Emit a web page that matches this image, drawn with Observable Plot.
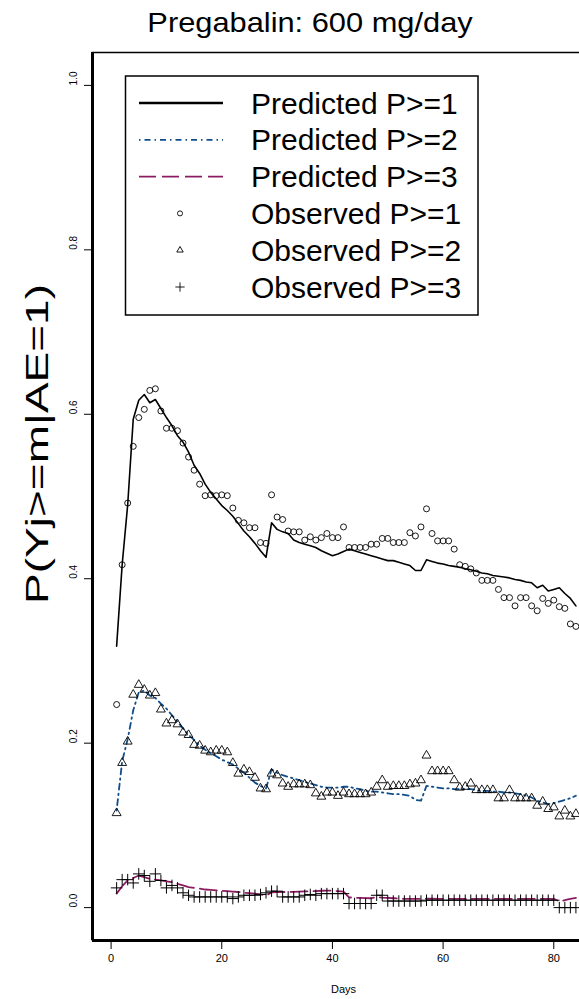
<!DOCTYPE html>
<html><head><meta charset="utf-8">
<script src="https://cdn.jsdelivr.net/npm/d3@7"></script>
<script src="https://cdn.jsdelivr.net/npm/@observablehq/plot@0.6"></script>
<style>
html,body{margin:0;padding:0;background:#fff;overflow:hidden;width:579px;height:999px;}
#wrap{position:relative;width:579px;height:999px;overflow:hidden;}
#title{position:absolute;left:0;top:0;width:620px;height:50px;text-align:center;font-family:"Liberation Sans",Arial,sans-serif;font-size:28px;line-height:46px;color:#000;white-space:nowrap;transform:scaleX(1.1);transform-origin:310px 0;}
#chart{position:absolute;left:0;top:50px;}
</style></head><body>
<div id="wrap"><div id="title"></div><div id="chart"></div></div>
<script>
const titleText = "Pregabalin: 600 mg/day";
const xLabel = "Days";
const yLabel = "P(Yj>=m|AE=1)";
const xTicks = [0, 20, 40, 60, 80];
const yTicks = [0, 0.2, 0.4, 0.6, 0.8, 1.0];
const xDomain = [-3.36, 87.36];
const yDomain = [-0.04, 1.04];
const days = d3.range(1, 85);

const obsP1 = [0.247,0.417,0.492,0.561,0.596,0.606,0.629,0.631,0.604,0.583,0.583,0.580,0.565,0.548,0.532,0.515,0.501,0.502,0.501,0.502,0.501,0.486,0.471,0.468,0.462,0.462,0.444,0.443,0.502,0.475,0.472,0.458,0.457,0.457,0.447,0.451,0.447,0.450,0.455,0.450,0.450,0.463,0.438,0.438,0.438,0.438,0.442,0.442,0.449,0.449,0.444,0.444,0.444,0.456,0.452,0.463,0.485,0.455,0.446,0.446,0.446,0.436,0.417,0.415,0.412,0.407,0.398,0.398,0.398,0.387,0.377,0.377,0.367,0.377,0.377,0.367,0.361,0.376,0.370,0.374,0.366,0.364,0.345,0.342];
const predP1 = [0.318,0.417,0.490,0.594,0.617,0.624,0.614,0.618,0.607,0.596,0.586,0.574,0.566,0.554,0.538,0.528,0.515,0.505,0.497,0.489,0.483,0.476,0.467,0.458,0.451,0.443,0.434,0.426,0.468,0.460,0.457,0.455,0.447,0.444,0.442,0.440,0.438,0.434,0.431,0.428,0.430,0.433,0.436,0.434,0.432,0.430,0.428,0.426,0.424,0.422,0.422,0.420,0.418,0.416,0.410,0.410,0.423,0.421,0.419,0.418,0.416,0.415,0.414,0.412,0.411,0.409,0.407,0.406,0.404,0.403,0.402,0.401,0.399,0.398,0.396,0.395,0.389,0.392,0.385,0.387,0.389,0.382,0.376,0.367];
const obsP2 = [0.115,0.176,0.202,0.259,0.271,0.265,0.258,0.261,0.241,0.224,0.228,0.223,0.213,0.210,0.198,0.197,0.191,0.189,0.191,0.191,0.189,0.176,0.163,0.168,0.165,0.158,0.145,0.144,0.163,0.161,0.151,0.147,0.150,0.150,0.150,0.149,0.139,0.135,0.140,0.140,0.136,0.140,0.138,0.138,0.138,0.138,0.140,0.147,0.155,0.147,0.148,0.148,0.148,0.150,0.151,0.155,0.185,0.166,0.166,0.166,0.166,0.155,0.146,0.147,0.151,0.143,0.143,0.143,0.143,0.133,0.133,0.143,0.133,0.133,0.133,0.133,0.124,0.129,0.120,0.122,0.111,0.118,0.111,0.114];
const predP2 = [0.118,0.178,0.205,0.240,0.262,0.264,0.258,0.255,0.248,0.242,0.234,0.226,0.218,0.210,0.204,0.197,0.192,0.188,0.184,0.180,0.177,0.174,0.169,0.164,0.158,0.152,0.148,0.145,0.168,0.164,0.161,0.159,0.157,0.155,0.153,0.151,0.149,0.147,0.146,0.146,0.146,0.147,0.147,0.145,0.144,0.142,0.141,0.141,0.140,0.139,0.138,0.138,0.137,0.136,0.131,0.130,0.148,0.147,0.146,0.145,0.145,0.144,0.144,0.144,0.144,0.143,0.142,0.142,0.141,0.141,0.140,0.140,0.139,0.138,0.136,0.134,0.130,0.128,0.126,0.127,0.129,0.131,0.133,0.136];
const obsP3 = [0.024,0.034,0.034,0.030,0.041,0.039,0.032,0.041,0.033,0.024,0.027,0.024,0.018,0.015,0.013,0.013,0.013,0.013,0.013,0.013,0.013,0.011,0.013,0.015,0.015,0.015,0.016,0.018,0.020,0.020,0.013,0.013,0.013,0.013,0.015,0.016,0.015,0.017,0.017,0.017,0.017,0.017,0.005,0.005,0.005,0.005,0.005,0.015,0.015,0.008,0.008,0.008,0.008,0.008,0.008,0.008,0.009,0.009,0.009,0.009,0.009,0.009,0.009,0.009,0.009,0.009,0.009,0.009,0.009,0.009,0.009,0.009,0.009,0.009,0.009,0.009,0.009,0.009,0.009,0.009,0.000,0.000,0.000,0.000];
const predP3 = [0.017,0.026,0.033,0.036,0.039,0.037,0.035,0.034,0.033,0.032,0.031,0.029,0.027,0.025,0.024,0.023,0.022,0.0215,0.021,0.0205,0.020,0.0195,0.019,0.018,0.0175,0.017,0.016,0.0146,0.0186,0.019,0.019,0.019,0.0192,0.0195,0.0197,0.0199,0.020,0.0205,0.0207,0.0205,0.020,0.0195,0.0125,0.012,0.0118,0.0116,0.0114,0.0128,0.0122,0.0118,0.0114,0.011,0.0106,0.0106,0.0106,0.0106,0.0108,0.0108,0.0107,0.0107,0.0106,0.0106,0.0106,0.0106,0.0106,0.0106,0.0106,0.0106,0.0106,0.0106,0.0106,0.0106,0.0106,0.0106,0.0106,0.0106,0.0106,0.0106,0.0106,0.0106,0.0077,0.009,0.0105,0.0118];

const legendLabels = ["Predicted P>=1","Predicted P>=2","Predicted P>=3","Observed P>=1","Observed P>=2","Observed P>=3"];
const blue = "#104E8B", maroon = "#8B1C62";
const dashP2 = "1.5,4,6,4", dashP3 = "17,6";

const rows = days.map((d, i) => ({day: d, o1: obsP1[i], p1: predP1[i], o2: obsP2[i], p2: predP2[i], o3: obsP3[i], p3: predP3[i]}));

document.getElementById("title").textContent = titleText;

const font = "'Liberation Sans', Arial, sans-serif";
const chart = Plot.plot({
  width: 594, height: 949,
  marginLeft: 92, marginRight: 0, marginTop: 2, marginBottom: 59,
  x: {domain: xDomain},
  y: {domain: yDomain},
  style: {fontFamily: font, maxWidth: "none", background: "white", color: "black", overflow: "visible"},
  marks: [
    Plot.line(rows, {x: "day", y: "p1", stroke: "black", strokeWidth: 1.6}),
    Plot.line(rows, {x: "day", y: "p2", stroke: blue, strokeWidth: 1.8, strokeDasharray: dashP2}),
    Plot.line(rows, {x: "day", y: "p3", stroke: maroon, strokeWidth: 1.8, strokeDasharray: dashP3}),
    Plot.dot(rows, {x: "day", y: "o1", symbol: "circle", r: 3, stroke: "black", strokeWidth: 0.9, fill: "none"}),
    Plot.dot(rows, {x: "day", y: "o2", symbol: "triangle", r: 3.3, stroke: "black", strokeWidth: 0.9, fill: "none"}),
    Plot.dot(rows, {x: "day", y: "o3", symbol: "plus", r: 3.8, stroke: "black", strokeWidth: 1}),
    Plot.frame({stroke: "black", strokeWidth: 1.5}),
    Plot.ruleX([xDomain[0]], {stroke: "black", strokeWidth: 3}),
    Plot.ruleY([yDomain[0]], {stroke: "black", strokeWidth: 3}),
    Plot.axisY(yTicks, {tickSize: 8, text: null, label: null}),
    Plot.text(yTicks, {y: d => d, frameAnchor: "left", text: d => d.toFixed(1), rotate: -90, dx: -19, fontSize: 10}),
    Plot.axisX(xTicks, {tickSize: 9, tickPadding: 5, fontSize: 11, label: null}),
    Plot.text([xLabel], {frameAnchor: "bottom", dy: 52, fontSize: 11})
  ]
});
document.getElementById("chart").appendChild(chart);

// overlay: y-axis title and legend
const ov = d3.select("#wrap").append("svg")
  .attr("width", 579).attr("height", 999)
  .style("position", "absolute").style("left", "0px").style("top", "0px")
  .style("pointer-events", "none");
ov.append("text")
  .attr("transform", "translate(37,444) rotate(-90) scale(1,0.7)")
  .attr("text-anchor", "middle").attr("dy", "0.35em")
  .attr("font-family", font).attr("font-size", 46).text(yLabel);

ov.append("rect").attr("x", 125.5).attr("y", 76).attr("width", 352.5).attr("height", 239)
  .attr("fill", "white").attr("stroke", "black").attr("stroke-width", 1.5);
const lineStyles = [
  {stroke: "black", dash: null, w: 2.5},
  {stroke: blue, dash: dashP2, w: 1.8},
  {stroke: maroon, dash: dashP3, w: 1.8}
];
const legSymbols = [d3.symbolCircle, d3.symbolTriangle, d3.symbolPlus];
legendLabels.forEach((lab, i) => {
  const cy = 103 + i * 36.8;
  if (i < 3) {
    const s = lineStyles[i];
    ov.append("line").attr("x1", 139).attr("x2", 223).attr("y1", cy).attr("y2", cy)
      .attr("stroke", s.stroke).attr("stroke-width", s.w).attr("stroke-dasharray", s.dash);
  } else {
    const sizes = [20, 18, 30];
    ov.append("path").attr("d", d3.symbol(legSymbols[i - 3], sizes[i - 3])())
      .attr("transform", `translate(180,${cy})`)
      .attr("fill", "none").attr("stroke", "black").attr("stroke-width", 0.9);
  }
  ov.append("text").attr("x", 251).attr("y", cy).attr("dy", "0.35em")
    .attr("font-family", font).attr("font-size", 30).text(lab);
});
</script>
</body></html>
